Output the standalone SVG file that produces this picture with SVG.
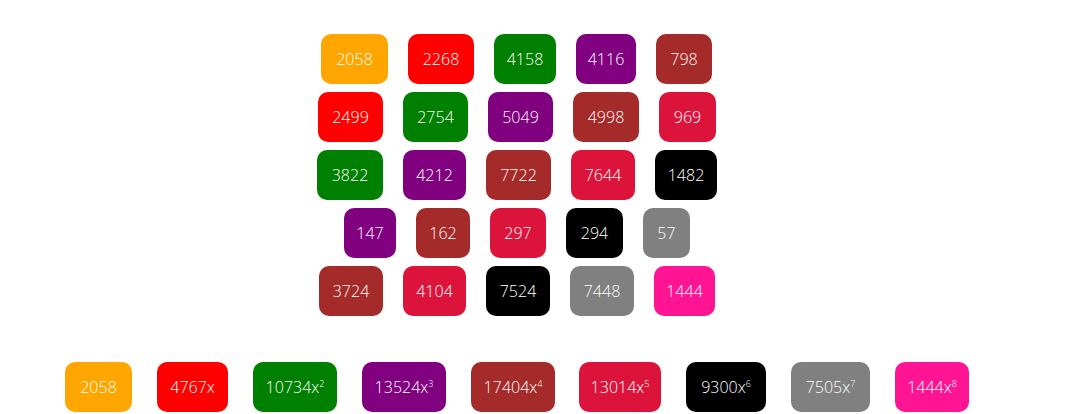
<svg xmlns="http://www.w3.org/2000/svg" width="1072" height="414" viewBox="0 0 1072 414">
<style>
rect{rx:10;ry:10}
text{font-family:"Open Sans","Noto Sans",sans-serif;font-size:16px;fill:#fff;text-anchor:middle;font-weight:300}
.s{font-size:9px}
.o{fill:#FFA500}.r{fill:#FF0000}.g{fill:#008000}.p{fill:#800080}.b{fill:#A52A2A}.c{fill:#DC143C}.k{fill:#000}.y{fill:#808080}.d{fill:#FF1493}
</style>
<g id="r1">
<g id="n1"><rect class="o" x="321" y="34" width="67" height="50"/><text x="354.5" y="64.5">2058</text></g>
<g id="n2"><rect class="r" x="408" y="34" width="66" height="50"/><text x="441" y="64.5">2268</text></g>
<g id="n3"><rect class="g" x="494" y="34" width="62" height="50"/><text x="525" y="64.5">4158</text></g>
<g id="n4"><rect class="p" x="576" y="34" width="60" height="50"/><text x="606" y="64.5">4116</text></g>
<g id="n5"><rect class="b" x="656" y="34" width="56" height="50"/><text x="684" y="64.5">798</text></g>
</g>
<g id="r2">
<g id="n6"><rect class="r" x="318" y="92" width="65" height="50"/><text x="350.5" y="122.5">2499</text></g>
<g id="n7"><rect class="g" x="403" y="92" width="65" height="50"/><text x="435.5" y="122.5">2754</text></g>
<g id="n8"><rect class="p" x="488" y="92" width="65" height="50"/><text x="520.5" y="122.5">5049</text></g>
<g id="n9"><rect class="b" x="573" y="92" width="66" height="50"/><text x="606" y="122.5">4998</text></g>
<g id="n10"><rect class="c" x="659" y="92" width="57" height="50"/><text x="687.5" y="122.5">969</text></g>
</g>
<g id="r3">
<g id="n11"><rect class="g" x="317" y="150" width="66" height="50"/><text x="350" y="180.5">3822</text></g>
<g id="n12"><rect class="p" x="403" y="150" width="63" height="50"/><text x="434.5" y="180.5">4212</text></g>
<g id="n13"><rect class="b" x="486" y="150" width="65" height="50"/><text x="518.5" y="180.5">7722</text></g>
<g id="n14"><rect class="c" x="571" y="150" width="64" height="50"/><text x="603" y="180.5">7644</text></g>
<g id="n15"><rect class="k" x="655" y="150" width="62" height="50"/><text x="686" y="180.5">1482</text></g>
</g>
<g id="r4">
<g id="n16"><rect class="p" x="344" y="208" width="52" height="50"/><text x="370" y="238.5">147</text></g>
<g id="n17"><rect class="b" x="416" y="208" width="54" height="50"/><text x="443" y="238.5">162</text></g>
<g id="n18"><rect class="c" x="490" y="208" width="56" height="50"/><text x="518" y="238.5">297</text></g>
<g id="n19"><rect class="k" x="566" y="208" width="57" height="50"/><text x="594.5" y="238.5">294</text></g>
<g id="n20"><rect class="y" x="643" y="208" width="47" height="50"/><text x="666.5" y="238.5">57</text></g>
</g>
<g id="r5">
<g id="n21"><rect class="b" x="319" y="266" width="64" height="50"/><text x="351" y="296.5">3724</text></g>
<g id="n22"><rect class="c" x="403" y="266" width="63" height="50"/><text x="434.5" y="296.5">4104</text></g>
<g id="n23"><rect class="k" x="486" y="266" width="64" height="50"/><text x="518" y="296.5">7524</text></g>
<g id="n24"><rect class="y" x="570" y="266" width="64" height="50"/><text x="602" y="296.5">7448</text></g>
<g id="n25"><rect class="d" x="654" y="266" width="61" height="50"/><text x="684.5" y="296.5">1444</text></g>
</g>
<g id="poly">
<g id="t0"><rect class="o" x="65" y="362" width="67" height="50"/><text x="98.5" y="392.5">2058</text></g>
<g id="t1"><rect class="r" x="157" y="362" width="71" height="50"/><text x="192.5" y="392.5">4767x</text></g>
<g id="t2"><rect class="g" x="253" y="362" width="84" height="50"/><text x="295" y="392.5">10734x<tspan class="s" dy="-6">2</tspan></text></g>
<g id="t3"><rect class="p" x="362" y="362" width="84" height="50"/><text x="404" y="392.5">13524x<tspan class="s" dy="-6">3</tspan></text></g>
<g id="t4"><rect class="b" x="471" y="362" width="84" height="50"/><text x="513" y="392.5">17404x<tspan class="s" dy="-6">4</tspan></text></g>
<g id="t5"><rect class="c" x="579" y="362" width="82" height="50"/><text x="620" y="392.5">13014x<tspan class="s" dy="-6">5</tspan></text></g>
<g id="t6"><rect class="k" x="686" y="362" width="80" height="50"/><text x="726" y="392.5">9300x<tspan class="s" dy="-6">6</tspan></text></g>
<g id="t7"><rect class="y" x="791" y="362" width="79" height="50"/><text x="830.5" y="392.5">7505x<tspan class="s" dy="-6">7</tspan></text></g>
<g id="t8"><rect class="d" x="895" y="362" width="74" height="50"/><text x="932" y="392.5">1444x<tspan class="s" dy="-6">8</tspan></text></g>
</g>
</svg>
